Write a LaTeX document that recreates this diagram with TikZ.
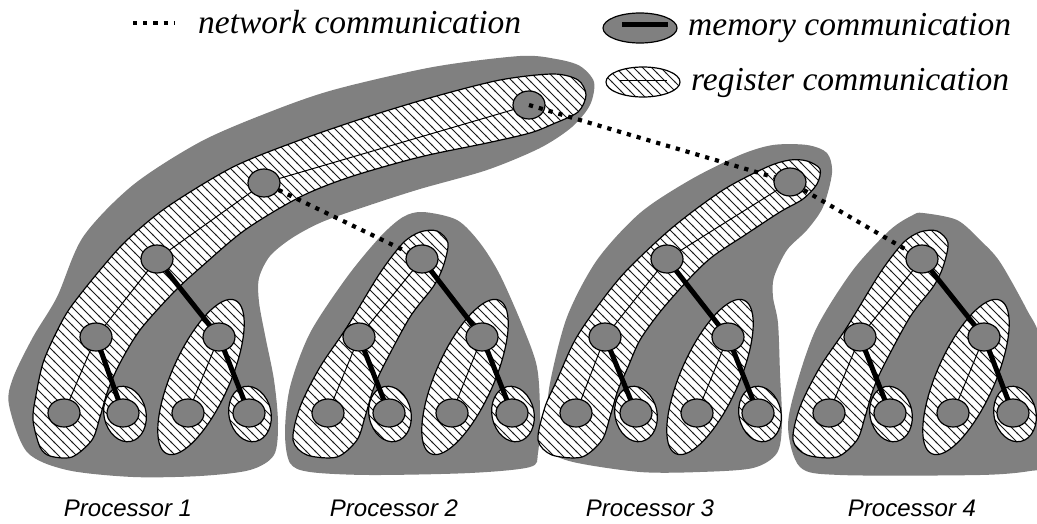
\documentclass[tikz,border=0pt]{standalone}
\usepackage{fontspec}
\setmainfont{Liberation Serif}
\newfontfamily\lsans{Liberation Sans}
\usetikzlibrary{patterns,shapes.geometric}
\definecolor{memgray}{gray}{0.5}
\pgfdeclarepatternformonly{diaghatch}{\pgfqpoint{-1pt}{-1pt}}{\pgfqpoint{10pt}{10pt}}{\pgfqpoint{9pt}{9pt}}{%
  \pgfsetlinewidth{1pt}%
  \pgfpathmoveto{\pgfqpoint{-1pt}{10pt}}%
  \pgfpathlineto{\pgfqpoint{10pt}{-1pt}}%
  \pgfusepathqstroke}
\pgfdeclarelayer{graylayer}
\pgfdeclarelayer{hatchlayer}
\pgfdeclarelayer{linklayer}
\pgfsetlayers{graylayer,hatchlayer,linklayer,main}
\tikzset{
  memregion/.style={fill=memgray, draw=none},
  regregion/.style={preaction={fill=white}, pattern=diaghatch, pattern color=black!90, draw=black, line width=1.2pt},
  task/.style={ellipse, draw=black, fill=memgray, line width=1.2pt, minimum width=32pt, minimum height=28pt, inner sep=0pt},
  regline/.style={line width=1pt},
  memline/.style={line width=5pt},
  netline/.style={line width=4.2pt, dash pattern=on 4.2pt off 6pt},
  legtext/.style={anchor=base west, inner sep=0pt, font=\fontsize{33.5}{36}\selectfont\itshape},
  proclabel/.style={anchor=base, inner sep=0pt, font=\lsans\itshape\fontsize{24}{28}\selectfont}
}
\begin{document}
\begin{tikzpicture}[x=1pt,y=-1pt]
\useasboundingbox (0,0) rectangle (1037,523);

% ---------- tree nodes ----------
\node[task] (root) at (529,105) {};
\node[task] (t1) at (264,183) {};
\node[task] (t3) at (790,182) {};
% processor 1
\node[task] (a) at (157,259) {};
\node[task] (aL) at (96,337) {};
\node[task] (aR) at (219,337) {};
\node[task] (a1) at (64,413) {};
\node[task] (a2) at (123,413) {};
\node[task] (a3) at (188,413) {};
\node[task] (a4) at (249,413) {};
% processor 2
\node[task] (b) at (422,259) {};
\node[task] (bL) at (359,337) {};
\node[task] (bR) at (482,337) {};
\node[task] (b1) at (328,413) {};
\node[task] (b2) at (389,413) {};
\node[task] (b3) at (452,413) {};
\node[task] (b4) at (512,413) {};
% processor 3
\node[task] (c) at (667,259) {};
\node[task] (cL) at (605,337) {};
\node[task] (cR) at (728,337) {};
\node[task] (c1) at (576,413) {};
\node[task] (c2) at (636,413) {};
\node[task] (c3) at (697,413) {};
\node[task] (c4) at (758,413) {};
% processor 4
\node[task] (d) at (922,259) {};
\node[task] (dL) at (860,337) {};
\node[task] (dR) at (984,337) {};
\node[task] (d1) at (829,413) {};
\node[task] (d2) at (890,413) {};
\node[task] (d3) at (953,413) {};
\node[task] (d4) at (1013,413) {};

% ---------- memory (processor) regions ----------
\begin{pgfonlayer}{graylayer}
\path[memregion] plot[smooth cycle] coordinates {(9,405) (13,378) (33,337) (57,297) (83,237) (133,185) (200,142) (267,113) (333,90) (433,67) (520,56) (556,59) (580,66) (594,82) (590,105) (572,127) (540,148) (487,170) (420,189) (367,206) (322,222) (292,238) (270,256) (259,278) (259,302) (265,335) (274,380) (278,423) (274,455) (250,470) (200,476) (133,477) (67,470) (27,452)};
\path[memregion] plot[smooth cycle] coordinates {(403,217) (423,212) (457,220) (480,243) (500,275) (523,327) (537,367) (540,413) (538,453) (530,467) (470,473) (370,475) (310,472) (290,463) (285,433) (290,387) (310,333) (347,277) (380,237)};
\path[memregion] plot[smooth cycle] coordinates {(740,155) (773,145) (807,145) (827,153) (832,173) (823,207) (807,230) (787,250) (774,277) (773,297) (778,323) (780,373) (782,423) (777,453) (753,468) (700,472) (640,472) (573,462) (550,450) (547,420) (550,383) (567,317) (597,260) (640,213) (690,180)};
\path[memregion] plot[smooth cycle] coordinates {(913,215) (923,213) (957,220) (980,240) (1000,262) (1027,310) (1040,340) (1045,420) (1040,465) (1030,471) (980,475) (840,475) (800,467) (788,427) (797,383) (817,327) (853,270) (890,230)};
\end{pgfonlayer}

% ---------- register regions ----------
\begin{pgfonlayer}{hatchlayer}
% processor 1
\path[regregion] plot[smooth cycle] coordinates {(40,447) (33,420) (36,395) (43,363) (55,335) (70,308) (100,270) (127,240) (167,207) (233,167) (300,140) (367,117) (433,97) (500,80) (553,74) (578,80) (586,95) (578,112) (553,124) (530,133) (487,143) (420,157) (350,177) (300,197) (245,230) (200,268) (173,293) (140,330) (120,363) (108,390) (100,417) (92,440) (72,457) (50,456)};
\path[regregion, rotate around={66:(201,377)}] (201,377) ellipse [x radius=84, y radius=29];
\path[regregion, rotate around={12:(125,414)}] (125,414) ellipse [x radius=21, y radius=28];
\path[regregion, rotate around={12:(250,414)}] (250,414) ellipse [x radius=21, y radius=28];
% processor 2
\path[regregion] plot[smooth cycle] coordinates {(437,231) (448,243) (443,267) (433,287) (410,317) (383,367) (373,390) (365,417) (357,440) (337,457) (307,455) (293,440) (300,407) (320,367) (347,327) (380,273) (403,243) (420,232)};
\path[regregion, rotate around={66:(465,377)}] (465,377) ellipse [x radius=84, y radius=29];
\path[regregion, rotate around={12:(390,414)}] (390,414) ellipse [x radius=21, y radius=28];
\path[regregion, rotate around={12:(513,414)}] (513,414) ellipse [x radius=21, y radius=28];
% processor 3
\path[regregion] plot[smooth cycle] coordinates {(552,455) (538,440) (545,407) (557,380) (575,340) (600,303) (627,270) (673,227) (723,190) (767,167) (790,160) (807,161) (820,169) (817,184) (803,199) (780,212) (745,235) (712,257) (688,280) (660,312) (640,340) (628,367) (618,390) (610,417) (602,440) (582,457)};
\path[regregion, rotate around={66:(710,377)}] (710,377) ellipse [x radius=84, y radius=29];
\path[regregion, rotate around={12:(636,414)}] (636,414) ellipse [x radius=21, y radius=28];
\path[regregion, rotate around={12:(760,414)}] (760,414) ellipse [x radius=21, y radius=28];
% processor 4
\path[regregion] plot[smooth cycle] coordinates {(937,231) (948,243) (943,267) (933,287) (910,317) (883,367) (873,390) (865,417) (857,440) (837,457) (807,455) (793,440) (800,407) (820,367) (847,327) (880,273) (903,243) (920,232)};
\path[regregion, rotate around={66:(966,377)}] (966,377) ellipse [x radius=84, y radius=29];
\path[regregion, rotate around={12:(891,414)}] (891,414) ellipse [x radius=21, y radius=28];
\path[regregion, rotate around={12:(1015,414)}] (1015,414) ellipse [x radius=21, y radius=28];
\end{pgfonlayer}

% ---------- connectors ----------
\begin{pgfonlayer}{linklayer}
\draw[regline] (root.center) -- (t1.center);
\draw[regline] (t1.center) -- (a.center);
\draw[regline] (t3.center) -- (c.center);
\draw[regline] (a.center) -- (aL.center) -- (a1.center);
\draw[regline] (aR.center) -- (a3.center);
\draw[regline] (b.center) -- (bL.center) -- (b1.center);
\draw[regline] (bR.center) -- (b3.center);
\draw[regline] (c.center) -- (cL.center) -- (c1.center);
\draw[regline] (cR.center) -- (c3.center);
\draw[regline] (d.center) -- (dL.center) -- (d1.center);
\draw[regline] (dR.center) -- (d3.center);
\draw[memline] (a.center) -- (aR.center);
\draw[memline] (aL.center) -- (a2.center);
\draw[memline] (aR.center) -- (a4.center);
\draw[memline] (b.center) -- (bR.center);
\draw[memline] (bL.center) -- (b2.center);
\draw[memline] (bR.center) -- (b4.center);
\draw[memline] (c.center) -- (cR.center);
\draw[memline] (cL.center) -- (c2.center);
\draw[memline] (cR.center) -- (c4.center);
\draw[memline] (d.center) -- (dR.center);
\draw[memline] (dL.center) -- (d2.center);
\draw[memline] (dR.center) -- (d4.center);
\end{pgfonlayer}

% network communication
\draw[netline] (t1) -- (b);
\draw[netline] (root.center) -- (t3);
\draw[netline] (t3) -- (d);

% ---------- legend ----------
\coordinate (ln1) at (133,23);
\coordinate (ln2) at (175,23);
\draw[netline] (ln1) -- (ln2);
\node[legtext] (lnet) at (198,33) {network communication};

\node[ellipse, draw=black, fill=memgray, line width=1.2pt, minimum width=74pt, minimum height=30pt, inner sep=0pt] (lmem) at (640,28) {};
\coordinate (lm1) at (622,24);
\coordinate (lm2) at (668,24);
\draw[memline] (lm1) -- (lm2);
\node[legtext] (lmemt) at (688,35) {memory communication};

\path[regregion] (643,82) ellipse [x radius=37, y radius=15];
\coordinate (lr1) at (620,80);
\coordinate (lr2) at (667,80);
\draw[regline] (lr1) -- (lr2);
\node[legtext] (lregt) at (691,90) {register communication};

% ---------- processor labels ----------
\node[proclabel] (P1) at (128,516) {Processor 1};
\node[proclabel] (P2) at (394,516) {Processor 2};
\node[proclabel] (P3) at (650,516) {Processor 3};
\node[proclabel] (P4) at (912,516) {Processor 4};
\end{tikzpicture}
\end{document}
